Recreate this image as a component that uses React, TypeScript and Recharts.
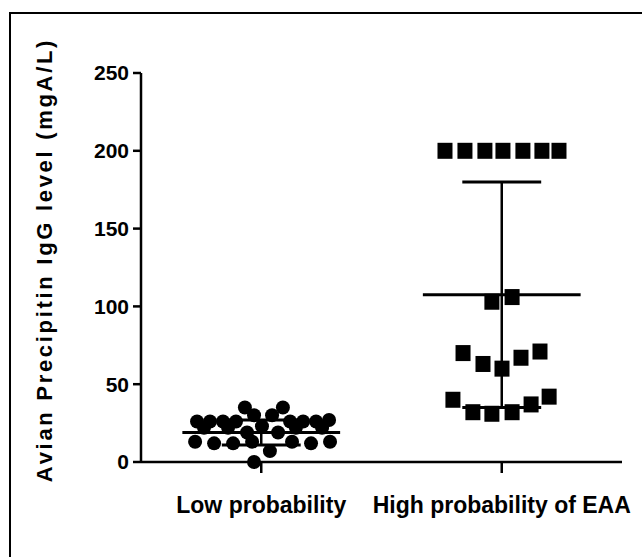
import React from "react";
import {
  ScatterChart,
  Scatter,
  XAxis,
  YAxis,
  ReferenceLine,
} from "recharts";

const categories = ["Low probability", "High probability of EAA"];
const categoryCenters = [0.5, 1.5];
const yTicks = [0, 50, 100, 150, 200, 250];

// low probability group (circles): value + horizontal jitter
const lowValues = [
  35, 35, 30, 30,
  26, 26, 26, 26, 26, 26, 26, 27,
  22, 22, 23, 22, 22,
  19, 19,
  13, 12, 12, 13, 13, 12, 13,
  7, 0,
];
const lowJitter = [
  -0.068, 0.09, -0.03, 0.045,
  -0.267, -0.213, -0.159, -0.105, 0.12, 0.174, 0.228, 0.282,
  -0.238, -0.138, 0.003, 0.144, 0.253,
  -0.059, 0.07,
  -0.275, -0.196, -0.117, -0.038, 0.128, 0.207, 0.286,
  0.036, -0.03,
];

// high probability group (squares)
const highValues = [
  200, 200, 200, 200, 200, 200, 200,
  103, 106,
  70, 63, 60, 67, 71,
  40, 32, 31, 32, 37, 42,
];
const highJitter = [
  -0.236, -0.153, -0.07, 0.005, 0.088, 0.167, 0.238,
  -0.041, 0.043,
  -0.161, -0.078, 0.001, 0.08, 0.159,
  -0.203, -0.12, -0.041, 0.043, 0.122, 0.197,
];

const means = [19, 107.5];
const sds = [8, 72.5];
const meanHalf = 0.328;
const capHalf = 0.164;

const lowData = lowValues.map((v, i) => ({ x: categoryCenters[0] + lowJitter[i], y: v }));
const highData = highValues.map((v, i) => ({ x: categoryCenters[1] + highJitter[i], y: v }));

const FONT = "'Liberation Sans', Arial, sans-serif";

const Dot = (p: any) => <circle cx={p.cx} cy={p.cy} r={7} fill="#000" />;
const Square = (p: any) => (
  <rect x={p.cx - 7.5} y={p.cy - 8} width={15} height={16} fill="#000" />
);

const YLabel = () => (
  <text
    x={44}
    y={260}
    transform="rotate(-90 44 260)"
    textAnchor="middle"
    dominantBaseline="central"
    fill="#000"
    style={{ fontFamily: FONT, fontSize: 22, fontWeight: "bold", letterSpacing: 2.7 }}
  >
    Avian Precipitin IgG level (mgA/L)
  </text>
);

export default function App() {
  return (
    <div style={{ position: "absolute", left: 0, top: 0, width: 642, height: 557, background: "#fff" }}>
      <div
        style={{
          position: "absolute",
          left: 9,
          top: 12,
          width: 633,
          height: 545,
          borderLeft: "2px solid #000",
          borderTop: "2px solid #000",
        }}
      />
      <div style={{ position: "absolute", left: 0, top: 0 }}>
        <ScatterChart width={642} height={557} margin={{ top: 73, right: 20, bottom: 0, left: 0 }}>
          <XAxis
            type="number"
            dataKey="x"
            domain={[0, 2]}
            ticks={categoryCenters}
            interval={0}
            tickFormatter={(v: number) => (v < 1 ? categories[0] : categories[1])}
            height={95}
            tickSize={11}
            tickMargin={24}
            axisLine={{ stroke: "#000", strokeWidth: 2.5 }}
            tickLine={{ stroke: "#000", strokeWidth: 2.5 }}
            tick={{ fill: "#000", fontSize: 23, fontWeight: "bold", fontFamily: FONT }}
          />
          <YAxis
            type="number"
            dataKey="y"
            domain={[0, 250]}
            ticks={yTicks}
            interval={0}
            width={141}
            tickSize={8}
            tickMargin={4}
            axisLine={{ stroke: "#000", strokeWidth: 2.5 }}
            tickLine={{ stroke: "#000", strokeWidth: 2.5 }}
            tick={{ fill: "#000", fontSize: 21, fontWeight: "bold", fontFamily: FONT }}
            label={<YLabel />}
          />
          {categoryCenters.map((c, i) => (
            <ReferenceLine
              key={`m${i}`}
              segment={[{ x: c - meanHalf, y: means[i] }, { x: c + meanHalf, y: means[i] }]}
              stroke="#000"
              strokeWidth={3}
            />
          ))}
          {categoryCenters.map((c, i) => (
            <ReferenceLine
              key={`v${i}`}
              segment={[{ x: c, y: means[i] - sds[i] }, { x: c, y: means[i] + sds[i] }]}
              stroke="#000"
              strokeWidth={2.5}
            />
          ))}
          {categoryCenters.map((c, i) => (
            <ReferenceLine
              key={`u${i}`}
              segment={[{ x: c - capHalf, y: means[i] + sds[i] }, { x: c + capHalf, y: means[i] + sds[i] }]}
              stroke="#000"
              strokeWidth={3}
            />
          ))}
          {categoryCenters.map((c, i) => (
            <ReferenceLine
              key={`l${i}`}
              segment={[{ x: c - capHalf, y: means[i] - sds[i] }, { x: c + capHalf, y: means[i] - sds[i] }]}
              stroke="#000"
              strokeWidth={3}
            />
          ))}
          <Scatter data={lowData} shape={Dot} isAnimationActive={false} />
          <Scatter data={highData} shape={Square} isAnimationActive={false} />
        </ScatterChart>
      </div>
    </div>
  );
}
